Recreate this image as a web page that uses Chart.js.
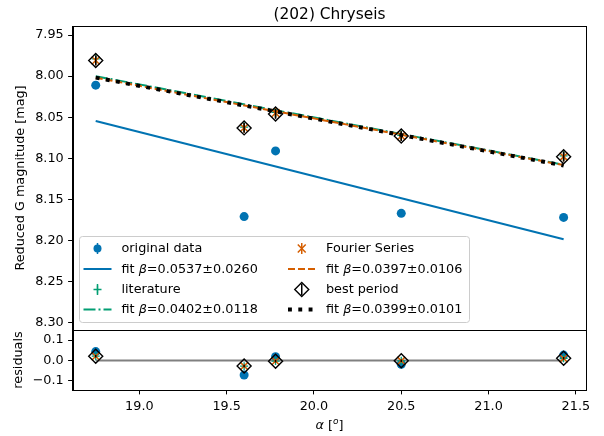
<!DOCTYPE html>
<html>
<head>
<meta charset="utf-8">
<title>(202) Chryseis</title>
<script src="https://cdn.jsdelivr.net/npm/chart.js@4.4.1/dist/chart.umd.min.js"></script>
<style>
  html, body { margin: 0; padding: 0; background: #fff; }
  #wrap { position: relative; width: 604px; height: 436px; }
  #wrap canvas { position: absolute; left: 0; top: 0; }
</style>
</head>
<body>
<div id="wrap">
  <canvas id="main" width="604" height="436"></canvas>
  <canvas id="resid" width="604" height="436"></canvas>
</div>
<script>
// phase angle [deg] and reduced G magnitudes per method
const alpha = [18.75, 19.60, 19.78, 20.50, 21.43];
const magOriginal = [8.011, 8.171, 8.091, 8.167, 8.172];
const magLiterature = [7.979, 8.062, 8.044, 8.072, 8.097];
const magFourier = [7.981, 8.063, 8.045, 8.073, 8.098];
const magBest = [7.981, 8.063, 8.046, 8.073, 8.098];
const errOriginal = [0.004, 0.004, 0.004, 0.004, 0.004];
const errLiterature = [0.006, 0.006, 0.006, 0.006, 0.006];
const errFourier = [0.006, 0.006, 0.006, 0.006, 0.006];
const errBest = [0.006, 0.006, 0.006, 0.006, 0.006];

// linear phase coefficient of each fit
const fitBeta = [0.0537, 0.0402, 0.0397, 0.0399];
const fitBetaErr = [0.0260, 0.0118, 0.0106, 0.0101];

const xTicks = [19.0, 19.5, 20.0, 20.5, 21.0, 21.5];
const magTicks = [7.95, 8.00, 8.05, 8.10, 8.15, 8.20, 8.25, 8.30];
const residTicks = [-0.1, 0.0, 0.1];

const FONT = '"DejaVu Sans", sans-serif';
const FS = 12.8;

const series = [
  { label: 'original data', mags: magOriginal, err: errOriginal, color: '#0173B2',
    marker: 'circle', radius: 4.5, markerWidth: 0, fill: '#0173B2', lineWidth: 2, dash: [] },
  { label: 'literature', mags: magLiterature, err: errLiterature, color: '#029E73',
    marker: 'cross', radius: 4, markerWidth: 1.3, fill: 'rgba(0,0,0,0)', lineWidth: 2, dash: [12, 3, 2, 3] },
  { label: 'Fourier Series', mags: magFourier, err: errFourier, color: '#D55E00',
    marker: 'crossRot', radius: 5.6, markerWidth: 1.5, fill: 'rgba(0,0,0,0)', lineWidth: 2, dash: [7, 3] },
  { label: 'best period', mags: magBest, err: errBest, color: '#000000',
    marker: 'rectRot', radius: 7, markerWidth: 1.4, fill: 'rgba(0,0,0,0)', lineWidth: 3.9, dash: [3.9, 6.4] }
];

const mean = a => a.reduce((s, v) => s + v, 0) / a.length;

// straight line with the quoted slope through the centroid of the points
series.forEach((s, i) => {
  s.beta = fitBeta[i];
  s.betaErr = fitBetaErr[i];
  const xm = mean(alpha), ym = mean(s.mags);
  s.fit = x => ym + s.beta * (x - xm);
});

const xMin = 18.617, xMax = 21.561;

function fontStr(size, italic) {
  return (italic ? 'italic ' : '') + size + 'px ' + FONT;
}

function drawParts(ctx, parts, x, y, align) {
  let total = 0;
  parts.forEach(p => {
    ctx.font = fontStr(p.size || FS, p.italic);
    p.w = ctx.measureText(p.text).width;
    total += p.w;
  });
  let cx = align === 'center' ? x - total / 2 : x;
  ctx.textAlign = 'left';
  parts.forEach(p => {
    ctx.font = fontStr(p.size || FS, p.italic);
    ctx.fillText(p.text, cx, y + (p.dy || 0));
    cx += p.w;
  });
}

function fitLabel(s) {
  return [{ text: 'fit ' }, { text: 'β', italic: true },
          { text: '=' + s.beta.toFixed(4) + '±' + s.betaErr.toFixed(4) }];
}

function pointDataset(s, values, order, yAxisID) {
  return {
    type: 'scatter', yAxisID, order,
    data: alpha.map((x, i) => ({ x, y: values[i] })),
    errors: s.err, errColor: s.color,
    pointStyle: s.marker, pointRadius: s.radius,
    pointBackgroundColor: s.fill, pointBorderColor: s.color,
    pointBorderWidth: s.markerWidth, showLine: false
  };
}

function lineDataset(s, order) {
  const x0 = alpha[0], x1 = alpha[alpha.length - 1];
  return {
    type: 'scatter', yAxisID: 'y', order,
    data: [{ x: x0, y: s.fit(x0) }, { x: x1, y: s.fit(x1) }],
    showLine: true, pointRadius: 0, fill: false,
    borderColor: s.color, borderWidth: s.lineWidth, borderDash: s.dash
  };
}

// vertical error bars under each point set
const errorBars = {
  id: 'errorBars',
  beforeDatasetDraw(chart, args) {
    const ds = chart.data.datasets[args.index];
    if (!ds.errors) return;
    const ctx = chart.ctx, xs = args.meta.xScale, ys = args.meta.yScale;
    ctx.save();
    ctx.strokeStyle = ds.errColor;
    ctx.lineWidth = 1.5;
    ds.data.forEach((p, i) => {
      const px = xs.getPixelForValue(p.x);
      ctx.beginPath();
      ctx.moveTo(px, ys.getPixelForValue(p.y - ds.errors[i]));
      ctx.lineTo(px, ys.getPixelForValue(p.y + ds.errors[i]));
      ctx.stroke();
    });
    ctx.restore();
  }
};

// closed box around the axes
const frame = {
  id: 'frame',
  afterDatasetsDraw(chart) {
    const { ctx, chartArea: a } = chart;
    ctx.save();
    ctx.strokeStyle = '#000';
    ctx.lineWidth = 1;
    ctx.strokeRect(Math.round(a.left) + 0.5, Math.round(a.top) + 0.5,
                   Math.round(a.right - a.left) - 1, Math.round(a.bottom - a.top));
    ctx.restore();
  }
};

function drawHandle(ctx, s, kind, x0, x1, y) {
  ctx.save();
  if (kind === 'line') {
    ctx.strokeStyle = s.color;
    ctx.lineWidth = s.lineWidth;
    ctx.setLineDash(s.dash);
    ctx.beginPath();
    ctx.moveTo(x0, y);
    ctx.lineTo(x1, y);
    ctx.stroke();
  } else {
    const cx = (x0 + x1) / 2;
    ctx.strokeStyle = s.color;
    ctx.lineWidth = 1.5;
    ctx.beginPath();
    ctx.moveTo(cx, y - 5.5);
    ctx.lineTo(cx, y + 5.5);
    ctx.stroke();
    ctx.fillStyle = s.fill;
    ctx.lineWidth = s.markerWidth;
    Chart.helpers.drawPoint(ctx, {
      pointStyle: s.marker, radius: s.marker === 'circle' ? 4 : s.radius,
      rotation: 0, borderWidth: s.markerWidth
    }, cx, y);
  }
  ctx.restore();
}

// two-column legend in the lower left of the upper panel
const legendBox = {
  id: 'legendBox',
  afterDraw(chart) {
    const ctx = chart.ctx;
    ctx.save();
    ctx.beginPath();
    ctx.roundRect(79.5, 236.5, 390, 86, 3);
    ctx.fillStyle = 'rgba(255,255,255,0.8)';
    ctx.fill();
    ctx.strokeStyle = '#cccccc';
    ctx.lineWidth = 1;
    ctx.stroke();

    const cols = [{ h0: 83.5, h1: 111.5, tx: 121.5 }, { h0: 288, h1: 315.5, tx: 326 }];
    const rows = [248.5, 269, 289.5, 309.5];
    ctx.fillStyle = '#000';
    ctx.textBaseline = 'middle';
    series.forEach((s, i) => {
      const c = cols[Math.floor(i / 2)];
      const r0 = rows[(i % 2) * 2], r1 = rows[(i % 2) * 2 + 1];
      drawHandle(ctx, s, 'point', c.h0, c.h1, r0);
      drawHandle(ctx, s, 'line', c.h0, c.h1, r1);
      ctx.fillStyle = '#000';
      drawParts(ctx, [{ text: s.label }], c.tx, r0 + 0.5, 'left');
      drawParts(ctx, fitLabel(s), c.tx, r1 + 0.5, 'left');
    });
    ctx.restore();
  }
};

function drawVerticalLabel(ctx, text, x, y) {
  ctx.save();
  ctx.translate(x, y);
  ctx.rotate(-Math.PI / 2);
  ctx.fillStyle = '#000';
  ctx.font = fontStr(FS);
  ctx.textAlign = 'center';
  ctx.textBaseline = 'middle';
  ctx.fillText(text, 0, 0);
  ctx.restore();
}

const mainLabels = {
  id: 'mainLabels',
  afterDraw(chart) {
    const { ctx, chartArea: a } = chart;
    ctx.save();
    ctx.fillStyle = '#000';
    ctx.font = fontStr(15.4);
    ctx.textAlign = 'center';
    ctx.textBaseline = 'alphabetic';
    ctx.fillText('(202) Chryseis', (a.left + a.right) / 2, 18.5);
    ctx.restore();
    drawVerticalLabel(ctx, 'Reduced G magnitude [mag]', 20.5, (a.top + a.bottom) / 2);
  }
};

const residLabels = {
  id: 'residLabels',
  afterDraw(chart) {
    const { ctx, chartArea: a } = chart;
    drawVerticalLabel(ctx, 'residuals', 18.5, (a.top + a.bottom) / 2);
    ctx.save();
    ctx.fillStyle = '#000';
    ctx.textBaseline = 'alphabetic';
    drawParts(ctx, [
      { text: 'α', italic: true }, { text: ' [' },
      { text: 'o', italic: true, size: 9, dy: -5 }, { text: ']' }
    ], (a.left + a.right) / 2, 428.5, 'center');
    ctx.restore();
  }
};

const tickFont = { family: FONT, size: FS };
const axisGrid = { drawOnChartArea: false, tickLength: 4.4, tickColor: '#000', tickWidth: 1 };
const axisBorder = { display: true, color: '#000', width: 1 };

// upper panel: magnitudes and fits, magnitude axis runs downward
const mainDatasets = [];
let ord = 100;
series.forEach(s => {
  mainDatasets.push(pointDataset(s, s.mags, ord--, 'y'));
  mainDatasets.push(lineDataset(s, ord--));
});

new Chart(document.getElementById('main'), {
  data: { datasets: mainDatasets },
  options: {
    responsive: false, animation: false, events: [],
    layout: { padding: { top: 26, right: 17.5, bottom: 106, left: 0 } },
    plugins: { legend: { display: false }, tooltip: { enabled: false } },
    scales: {
      x: { type: 'linear', display: false, min: xMin, max: xMax },
      y: {
        type: 'linear', reverse: true, min: 7.939, max: 8.309,
        afterFit: s => { s.width = 72.5; },
        afterBuildTicks: s => { s.ticks = magTicks.map(v => ({ value: v })); },
        ticks: { callback: v => v.toFixed(2), color: '#000', font: tickFont, padding: 4.4, autoSkip: false },
        grid: axisGrid, border: axisBorder
      }
    }
  },
  plugins: [errorBars, frame, legendBox, mainLabels]
});

// lower panel: fit minus observation
const residDatasets = [{
  type: 'scatter', yAxisID: 'y', order: 200,
  data: [{ x: alpha[0], y: 0 }, { x: alpha[alpha.length - 1], y: 0 }],
  showLine: true, pointRadius: 0, borderColor: '#808080', borderWidth: 2
}];
ord = 100;
series.forEach(s => {
  const res = alpha.map((x, i) => s.fit(x) - s.mags[i]);
  residDatasets.push(pointDataset(s, res, ord--, 'y'));
});

new Chart(document.getElementById('resid'), {
  data: { datasets: residDatasets },
  options: {
    responsive: false, animation: false, events: [],
    layout: { padding: { top: 330, right: 17.5, bottom: 0, left: 0 } },
    plugins: { legend: { display: false }, tooltip: { enabled: false } },
    scales: {
      x: {
        type: 'linear', min: xMin, max: xMax,
        afterFit: s => { s.height = 46; },
        afterBuildTicks: s => { s.ticks = xTicks.map(v => ({ value: v })); },
        ticks: { callback: v => v.toFixed(1), color: '#000', font: tickFont, padding: 4.4, autoSkip: false, maxRotation: 0 },
        grid: axisGrid, border: axisBorder
      },
      y: {
        type: 'linear', min: -0.144, max: 0.149,
        afterFit: s => { s.width = 72.5; },
        afterBuildTicks: s => { s.ticks = residTicks.map(v => ({ value: v })); },
        ticks: {
          callback: v => (v < 0 ? '\u2212' + Math.abs(v).toFixed(1) : v.toFixed(1)),
          color: '#000', font: tickFont, padding: 4.4, autoSkip: false
        },
        grid: axisGrid, border: axisBorder
      }
    }
  },
  plugins: [errorBars, frame, residLabels]
});
</script>
</body>
</html>
